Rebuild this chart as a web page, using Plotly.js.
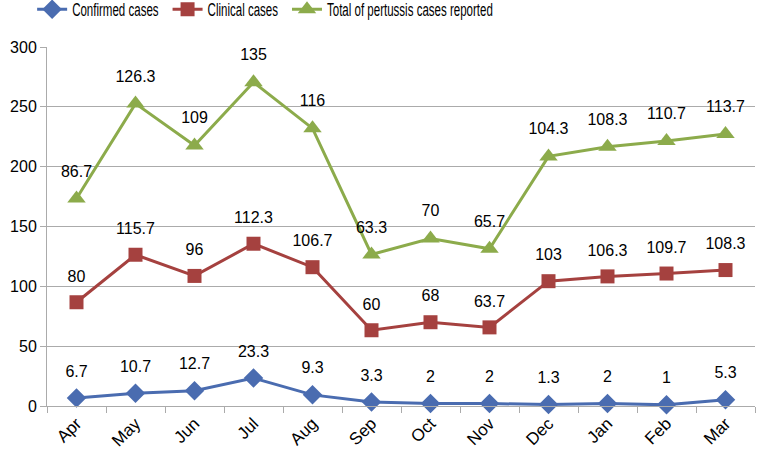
<!DOCTYPE html>
<html>
<head>
<meta charset="utf-8">
<script src="https://cdn.plot.ly/plotly-3.0.1.min.js"></script>
<style>html,body{margin:0;padding:0;background:#fff}#chart{width:757px;height:456px}</style>
</head>
<body>
<div id="chart"></div>
<script>
const months = ["Apr","May","Jun","Jul","Aug","Sep","Oct","Nov","Dec","Jan","Feb","Mar"];
const confirmed = [6.7,10.7,12.7,23.3,9.3,3.3,2,2,1.3,2,1,5.3];
const clinical = [80,115.7,96,112.3,106.7,60,68,63.7,103,106.3,109.7,108.3];
const total = [86.7,126.3,109,135,116,63.3,70,65.7,104.3,108.3,110.7,113.7];

const labelFont = {family:"Liberation Sans, Arial, sans-serif", size:16, color:"#000"};
function tr(name, vals, color, symbol, size){
  return {
    type:"scatter", mode:"lines+markers+text", name:name,
    x:months, y:vals, stackgroup:"one", fill:"none",
    line:{color:color, width:3},
    marker:{color:color, symbol:symbol, size:size},
    text:vals.map(String), textposition:"top center",
    textfont:labelFont, hoverinfo:"skip", cliponaxis:false
  };
}
const data = [
  tr("Confirmed cases", confirmed, "#4A6CB0", "diamond", 15),
  tr("Clinical cases", clinical, "#A5413F", "square", 14),
  tr("Total of pertussis cases reported", total, "#8CAB4B", "triangle-up", 16)
];
const gridCol = "#ABABAB";
const layout = {
  width:757, height:456,
  margin:{l:47, r:2, t:46, b:50},
  paper_bgcolor:"#fff", plot_bgcolor:"#fff",
  showlegend:true,
  legend:{orientation:"h", x:-0.021, xanchor:"left", y:1.124, yanchor:"top",
    bgcolor:"rgba(0,0,0,0)",
    font:{family:"Liberation Sans, Arial, sans-serif", size:16, color:"#000"},
    itemwidth:30, tracegroupgap:0, traceorder:"normal"},
  xaxis:{type:"category", tickangle:-45, showgrid:false, showline:true, linecolor:gridCol,
    ticks:"outside", tickson:"boundaries", ticklen:6, tickcolor:gridCol,
    tickfont:{family:"Liberation Sans, Arial, sans-serif", size:17, color:"#000"},
    range:[-0.5, 11.5], fixedrange:true},
  yaxis:{range:[0,300], dtick:50, showgrid:true, gridcolor:gridCol, gridwidth:1,
    showline:true, linecolor:gridCol, ticks:"outside", ticklen:6, tickcolor:gridCol,
    zeroline:false,
    tickfont:{family:"Liberation Sans, Arial, sans-serif", size:16, color:"#000"},
    fixedrange:true}
};
Plotly.newPlot("chart", data, layout, {displayModeBar:false, staticPlot:true}).then(function(gd){
  // condense legend text horizontally (reference uses a tall narrow face)
  const items = gd.querySelectorAll(".legend .traces");
  let x = null;
  items.forEach(function(it){
    const t = it.querySelector("text.legendtext");
    const w = t.getComputedTextLength();
    const nw = w * 0.72;
    t.style.fontSize = "18px";
    t.setAttribute("textLength", nw);
    t.setAttribute("lengthAdjust", "spacingAndGlyphs");
    const m = /translate\(\s*([-\d.]+)[ ,]+([-\d.]+)/.exec(it.getAttribute("transform") || "");
    const cx = m ? parseFloat(m[1]) : 0, cy = m ? parseFloat(m[2]) : 0;
    if (x === null) { x = cx; }
    it.setAttribute("transform", "translate(" + x + "," + cy + ")");
    x += 40 + nw + 9;
  });
  // nudge the legend block up toward the top edge
  const lg = gd.querySelector("g.legend");
  if (lg) {
    const m = /translate\(\s*([-\d.]+)[ ,]+([-\d.]+)/.exec(lg.getAttribute("transform") || "");
    if (m) lg.setAttribute("transform", "translate(" + m[1] + "," + (parseFloat(m[2]) - 9) + ")");
  }
  // lift data labels a little further above their markers
  gd.querySelectorAll(".scatterlayer .textpoint text").forEach(function(t){
    const y = parseFloat(t.getAttribute("y"));
    t.setAttribute("y", y - 7);
    t.querySelectorAll("tspan").forEach(function(s){
      if (s.hasAttribute("y")) s.setAttribute("y", parseFloat(s.getAttribute("y")) - 7);
    });
  });
});
</script>
</body>
</html>
